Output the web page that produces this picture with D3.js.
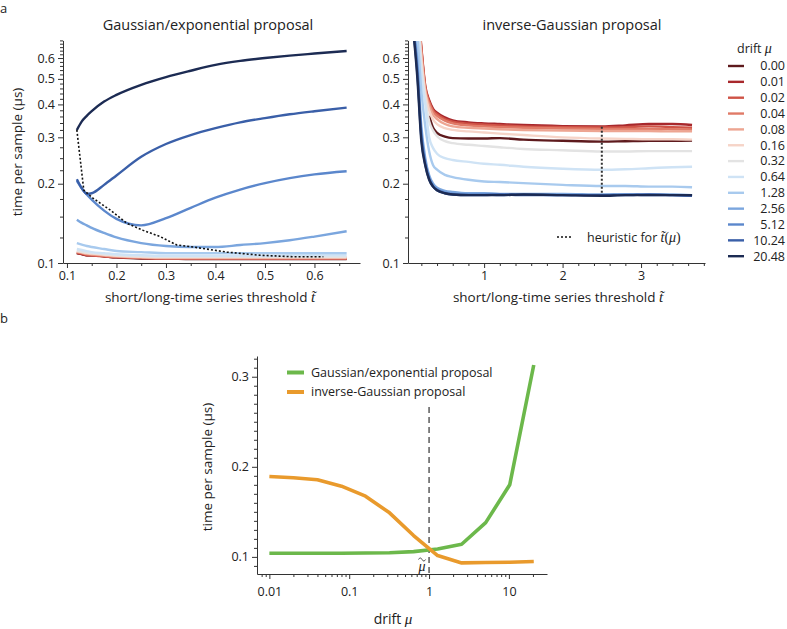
<!DOCTYPE html>
<html><head><meta charset="utf-8">
<script src="https://cdn.jsdelivr.net/npm/d3@7"></script>
<style>
body{margin:0;background:#fff}
text{font-family:'Open Sans',Lato,sans-serif;fill:#222}
.math{font-family:'Liberation Serif','DejaVu Serif',serif;font-style:italic}
</style>
</head><body><svg id="c" width="787" height="629"></svg>
<script>
// ---------------- data ----------------
const driftLabels = ["0.00","0.01","0.02","0.04","0.08","0.16","0.32","0.64","1.28","2.56","5.12","10.24","20.48"];
const driftColors = ["#5e1a1d","#a8282c","#cf5346","#e07a67","#eda592","#f6d4c8","#e3e3e3","#cfe3f5","#a8caee","#7ba6de","#5b87cc","#3a5fa8","#1c2b53"];

// panel a, left: Gaussian/exponential proposal
const leftT = [0.12,0.13,0.14,0.15,0.175,0.2,0.25,0.3,0.35,0.4,0.45,0.5,0.55,0.6,0.665];
const leftValues = [
  [0.109,0.108,0.107,0.107,0.106,0.105,0.104,0.104,0.1035,0.1035,0.1035,0.1035,0.1035,0.1035,0.1035],
  [0.109,0.108,0.107,0.107,0.106,0.105,0.1045,0.104,0.104,0.104,0.104,0.104,0.104,0.104,0.104],
  [0.1095,0.1085,0.1075,0.107,0.106,0.1055,0.1045,0.104,0.104,0.104,0.104,0.104,0.104,0.104,0.104],
  [0.110,0.109,0.108,0.1075,0.1065,0.1055,0.105,0.1045,0.1045,0.1045,0.1045,0.1045,0.1045,0.1045,0.1045],
  [0.1105,0.1095,0.1085,0.108,0.107,0.106,0.105,0.1045,0.1045,0.1045,0.1045,0.1045,0.1045,0.1045,0.1045],
  [0.111,0.110,0.109,0.1085,0.1075,0.1065,0.1055,0.105,0.105,0.105,0.105,0.105,0.105,0.105,0.105],
  [0.1115,0.1105,0.1095,0.109,0.108,0.107,0.106,0.1055,0.1055,0.1055,0.1055,0.1055,0.1055,0.1055,0.1055],
  [0.113,0.112,0.111,0.110,0.109,0.108,0.107,0.1065,0.1065,0.1065,0.1065,0.1065,0.107,0.107,0.107],
  [0.119,0.1175,0.116,0.115,0.113,0.111,0.110,0.109,0.109,0.109,0.109,0.109,0.109,0.109,0.109],
  [0.146,0.142,0.139,0.136,0.130,0.125,0.119,0.116,0.115,0.115,0.117,0.119,0.122,0.126,0.132],
  [0.205,0.192,0.182,0.174,0.158,0.147,0.139,0.148,0.162,0.177,0.190,0.201,0.210,0.217,0.223],
  [0.208,0.192,0.183,0.184,0.198,0.215,0.253,0.283,0.306,0.325,0.342,0.355,0.367,0.377,0.389],
  [0.320,0.345,0.362,0.377,0.410,0.435,0.475,0.508,0.537,0.565,0.585,0.600,0.613,0.624,0.638]
];
const leftHeurT = [0.12,0.134,0.153,0.187,0.221,0.254,0.288,0.322,0.355,0.423,0.49,0.557,0.618];
const leftHeurV = [0.320,0.189,0.176,0.159,0.1415,0.133,0.126,0.117,0.115,0.110,0.107,0.1056,0.1056];

// panel a, right: inverse-Gaussian proposal
const rightT = [0.1,0.15,0.2,0.25,0.3,0.35,0.4,0.5,0.6,0.8,1.0,1.2,1.5,2.0,2.5,2.8,3.1,3.4,3.65];
const rightValues = [
  [null,null,null,null,0.362,0.326,0.312,0.302,0.298,0.297,0.297,0.298,0.294,0.291,0.289,0.290,0.291,0.291,0.2915],
  [1.3,1.0,0.66,0.47,0.415,0.385,0.372,0.357,0.348,0.342,0.339,0.337,0.334,0.331,0.330,0.333,0.337,0.337,0.334],
  [1.3,1.0,0.65,0.465,0.41,0.38,0.367,0.352,0.344,0.338,0.335,0.333,0.330,0.328,0.327,0.328,0.330,0.328,0.326],
  [1.3,0.98,0.64,0.46,0.405,0.375,0.362,0.347,0.339,0.333,0.330,0.328,0.326,0.324,0.323,0.323,0.323,0.322,0.321],
  [1.25,0.96,0.62,0.45,0.395,0.365,0.352,0.337,0.330,0.326,0.324,0.322,0.320,0.318,0.317,0.317,0.317,0.316,0.316],
  [1.2,0.94,0.60,0.44,0.38,0.35,0.337,0.325,0.320,0.316,0.313,0.310,0.306,0.300,0.297,0.296,0.295,0.295,0.294],
  [1.1,0.9,0.56,0.42,0.345,0.318,0.303,0.290,0.285,0.281,0.278,0.275,0.271,0.268,0.265,0.265,0.266,0.266,0.266],
  [1.0,0.85,0.53,0.40,0.30,0.273,0.26,0.250,0.246,0.242,0.238,0.236,0.232,0.228,0.226,0.227,0.229,0.231,0.232],
  [0.9,0.72,0.45,0.33,0.265,0.235,0.226,0.216,0.212,0.207,0.204,0.203,0.201,0.198,0.196,0.196,0.195,0.195,0.194],
  [0.8,0.58,0.33,0.25,0.215,0.200,0.193,0.188,0.186,0.184,0.184,0.183,0.183,0.183,0.182,0.182,0.182,0.182,0.181],
  [0.77,0.54,0.31,0.24,0.21,0.196,0.190,0.185,0.183,0.182,0.182,0.181,0.182,0.181,0.181,0.182,0.181,0.181,0.180],
  [0.76,0.52,0.30,0.236,0.208,0.195,0.189,0.184,0.182,0.181,0.181,0.182,0.181,0.181,0.181,0.181,0.182,0.181,0.180],
  [0.75,0.50,0.29,0.235,0.207,0.195,0.189,0.184,0.182,0.181,0.181,0.181,0.182,0.181,0.180,0.181,0.181,0.181,0.181]
];
const rightHeurT = [2.5,2.5];
const rightHeurV = [0.185,0.330];

// panel b
const muValues = [0.01,0.02,0.04,0.08,0.16,0.32,0.64,1.28,2.56,5.12,10.24,20.48];
const gaussExpTime = [0.1040,0.1040,0.1040,0.1041,0.1043,0.1046,0.1058,0.1088,0.1140,0.1380,0.1800,0.3130];
const invGaussTime = [0.1893,0.1878,0.1856,0.1785,0.1674,0.1489,0.1237,0.1015,0.0933,0.0937,0.0941,0.0948];
const muTilde = 1;

// ticks
const topYMajor = [0.1,0.2,0.3,0.4,0.5,0.6];
const topYMinor = [0.125,0.15,0.175,0.225,0.25,0.275,0.32,0.34,0.36,0.38,0.42,0.44,0.46,0.48,0.52,0.54,0.56,0.58,0.62,0.64,0.66,0.68,0.7];
const leftXMajor = [0.1,0.2,0.3,0.4,0.5,0.6];
const leftXMinor = [0.15,0.25,0.35,0.45,0.55,0.65];
const rightXMajor = [1,2,3];
const rightXMinor = [0.2,0.4,0.6,0.8,1.2,1.4,1.6,1.8,2.2,2.4,2.6,2.8,3.2,3.4,3.6,3.8];
const botXMajor = [0.01,0.1,1,10];
const botXMinor = [0.008,0.009,0.02,0.03,0.04,0.05,0.06,0.07,0.08,0.09,0.2,0.3,0.4,0.5,0.6,0.7,0.8,0.9,2,3,4,5,6,7,8,9,20];
const botYMajor = [0.1,0.2,0.3];
const botYMinor = [0.09,0.11,0.12,0.13,0.14,0.15,0.16,0.17,0.18,0.19,0.21,0.22,0.23,0.24,0.25,0.26,0.27,0.28,0.29,0.31,0.32];

// ---------------- drawing ----------------
const svg = d3.select("#c");
const AX = "#333";
const TICKFONT = "12.5px";

function drawAxis(g, axisMajor, axisMinor){
  const a = g.append("g").call(axisMajor);
  a.select(".domain").attr("stroke", AX);
  a.selectAll(".tick line").attr("stroke", AX);
  a.selectAll(".tick text").attr("fill","#222").style("font-family","'Open Sans',sans-serif").style("font-size",TICKFONT);
  const b = g.append("g").call(axisMinor);
  b.select(".domain").remove();
  b.selectAll(".tick line").attr("stroke", AX);
  return a;
}

const yTop = d3.scaleLog().domain([0.1,0.7]).range([263,40.4]);
const xL = d3.scaleLinear().domain([0.092,0.692]).range([63,360]);
const xR = d3.scaleLinear().domain([0.03,3.815]).range([408,705]);

// panel labels
svg.append("text").attr("x",0).attr("y",13).style("font-size","13px").text("a");
svg.append("text").attr("x",0).attr("y",323).style("font-size","13px").text("b");

// ---- left panel ----
const gL = svg.append("g");
drawAxis(gL.append("g").attr("transform","translate(63,0)"),
  d3.axisLeft(yTop).tickValues(topYMajor).tickFormat(d3.format(".1f")).tickSize(5).tickSizeOuter(0).tickPadding(3),
  d3.axisLeft(yTop).tickValues(topYMinor).tickFormat("").tickSize(3).tickSizeOuter(0));
drawAxis(gL.append("g").attr("transform","translate(0,263)"),
  d3.axisBottom(xL).tickValues(leftXMajor).tickFormat(d3.format(".1f")).tickSize(5).tickSizeOuter(0).tickPadding(3),
  d3.axisBottom(xL).tickValues(leftXMinor).tickFormat("").tickSize(3).tickSizeOuter(0));

const lineL = d3.line().x(d=>xL(d[0])).y(d=>yTop(d[1])).curve(d3.curveMonotoneX);
leftValues.forEach((vals,i)=>{
  gL.append("path").datum(leftT.map((t,j)=>[t,vals[j]]))
    .attr("d",lineL).attr("fill","none").attr("stroke",driftColors[i]).attr("stroke-width",2.4).attr("stroke-linejoin","round");
});
gL.append("path").datum(leftHeurT.map((t,j)=>[t,leftHeurV[j]]))
  .attr("d",d3.line().x(d=>xL(d[0])).y(d=>yTop(d[1])))
  .attr("fill","none").attr("stroke","#111").attr("stroke-width",1.6).attr("stroke-dasharray","2,2");

svg.append("text").attr("x",208).attr("y",30).attr("text-anchor","middle").style("font-size","14.5px").text("Gaussian/exponential proposal");
svg.append("text").attr("x",17).attr("y",152).attr("text-anchor","middle").attr("transform","rotate(-90,17,152)")
  .attr("dy","0.35em").style("font-size","13.5px").text("time per sample (μs)");

function tildeLabel(cx, y, txt){
  const t = svg.append("text").attr("x",cx).attr("y",y).attr("text-anchor","middle").style("font-size","13.5px");
  t.append("tspan").text(txt+"  ");
  t.append("tspan").attr("class","math").style("font-size","15px").text("t\u0303");
}
tildeLabel(210, 302, "short/long-time series threshold");

// ---- right panel ----
const gR = svg.append("g");
drawAxis(gR.append("g").attr("transform","translate(408,0)"),
  d3.axisLeft(yTop).tickValues(topYMajor).tickFormat(d3.format(".1f")).tickSize(5).tickSizeOuter(0).tickPadding(3),
  d3.axisLeft(yTop).tickValues(topYMinor).tickFormat("").tickSize(3).tickSizeOuter(0));
drawAxis(gR.append("g").attr("transform","translate(0,263)"),
  d3.axisBottom(xR).tickValues(rightXMajor).tickFormat(d3.format("d")).tickSize(5).tickSizeOuter(0).tickPadding(3),
  d3.axisBottom(xR).tickValues(rightXMinor).tickFormat("").tickSize(3).tickSizeOuter(0));

svg.append("defs").append("clipPath").attr("id","clipR").append("rect").attr("x",408).attr("y",41).attr("width",300).attr("height",222);
const lineR = d3.line().defined(d=>d[1]!=null).x(d=>xR(d[0])).y(d=>yTop(d[1])).curve(d3.curveMonotoneX);
const gRL = gR.append("g").attr("clip-path","url(#clipR)");
rightValues.forEach((vals,i)=>{
  gRL.append("path").datum(rightT.map((t,j)=>[t,vals[j]]))
    .attr("d",lineR).attr("fill","none").attr("stroke",driftColors[i]).attr("stroke-width",2.4).attr("stroke-linejoin","round");
});
gR.append("path").datum(rightHeurT.map((t,j)=>[t,rightHeurV[j]]))
  .attr("d",d3.line().x(d=>xR(d[0])).y(d=>yTop(d[1])))
  .attr("fill","none").attr("stroke","#333").attr("stroke-width",2).attr("stroke-dasharray","2,2");

svg.append("text").attr("x",572).attr("y",30).attr("text-anchor","middle").style("font-size","14.5px").text("inverse-Gaussian proposal");
tildeLabel(558, 302, "short/long-time series threshold");

// heuristic legend
svg.append("line").attr("x1",557).attr("x2",572).attr("y1",237).attr("y2",237)
  .attr("stroke","#111").attr("stroke-width",1.6).attr("stroke-dasharray","2,2");
const ht = svg.append("text").attr("x",587).attr("y",241.5).style("font-size","12.5px");
ht.append("tspan").text("heuristic for ");
ht.append("tspan").attr("class","math").style("font-size","14px").text("t\u0303");
ht.append("tspan").style("font-family","'Liberation Serif',serif").style("font-size","14px").text("(");
ht.append("tspan").attr("class","math").style("font-size","14px").text("μ");
ht.append("tspan").style("font-family","'Liberation Serif',serif").style("font-size","14px").text(")");

// drift legend
const dl = svg.append("text").attr("x",737).attr("y",53).style("font-size","12.5px");
dl.append("tspan").text("drift ");
dl.append("tspan").attr("class","math").style("font-size","14px").text("μ");
driftLabels.forEach((lab,i)=>{
  const y = 66 + i*15.85;
  svg.append("line").attr("x1",728).attr("x2",744).attr("y1",y).attr("y2",y).attr("stroke",driftColors[i]).attr("stroke-width",2.4);
  svg.append("text").attr("x",785).attr("y",y).attr("dy","0.35em").attr("text-anchor","end").style("font-size","12.5px").text(lab);
});

// ---- panel b ----
const xB = d3.scaleLog().domain([0.007,30]).range([257,547]);
const yB = d3.scaleLinear().domain([0.081,0.323]).range([574,356]);
const gB = svg.append("g");
drawAxis(gB.append("g").attr("transform","translate(257,0)"),
  d3.axisLeft(yB).tickValues(botYMajor).tickFormat(d3.format(".1f")).tickSize(5).tickSizeOuter(0).tickPadding(3),
  d3.axisLeft(yB).tickValues(botYMinor).tickFormat("").tickSize(3).tickSizeOuter(0));
drawAxis(gB.append("g").attr("transform","translate(0,574)"),
  d3.axisBottom(xB).tickValues(botXMajor).tickFormat(d=>String(d)).tickSize(5).tickSizeOuter(0).tickPadding(8),
  d3.axisBottom(xB).tickValues(botXMinor).tickFormat("").tickSize(3).tickSizeOuter(0));

// dashed mu tilde line
const xm = xB(muTilde);
gB.append("line").attr("x1",xm).attr("x2",xm).attr("y1",407).attr("y2",574)
  .attr("stroke","#333").attr("stroke-width",1.2).attr("stroke-dasharray","6,4");
svg.append("text").attr("class","math").attr("x",xm-7).attr("y",571).attr("text-anchor","middle").style("font-size","14px").text("μ");
svg.append("path").attr("d",`M${xm-10.5},${559.5} c1,-2 2.5,-2 3.5,0 s2.5,2 3.5,0`)
  .attr("fill","none").attr("stroke","#222").attr("stroke-width",0.8);

const lineB = d3.line().x(d=>xB(d[0])).y(d=>yB(d[1]));
gB.append("path").datum(muValues.map((m,j)=>[m,gaussExpTime[j]])).attr("d",lineB)
  .attr("fill","none").attr("stroke","#6cb84b").attr("stroke-width",3.6).attr("stroke-linejoin","round");
gB.append("path").datum(muValues.map((m,j)=>[m,invGaussTime[j]])).attr("d",lineB)
  .attr("fill","none").attr("stroke","#e99a2c").attr("stroke-width",3.6).attr("stroke-linejoin","round");

// legend b
[["Gaussian/exponential proposal","#6cb84b",372.5],["inverse-Gaussian proposal","#e99a2c",392]].forEach(([lab,col,y])=>{
  svg.append("line").attr("x1",287).attr("x2",304).attr("y1",y).attr("y2",y).attr("stroke",col).attr("stroke-width",4);
  svg.append("text").attr("x",311).attr("y",y).attr("dy","0.35em").style("font-size","12.5px").text(lab);
});

svg.append("text").attr("x",207).attr("y",467).attr("text-anchor","middle").attr("transform","rotate(-90,207,467)")
  .attr("dy","0.35em").style("font-size","13.5px").text("time per sample (μs)");
const dx = svg.append("text").attr("x",393).attr("y",624).attr("text-anchor","middle").style("font-size","14px");
dx.append("tspan").text("drift ");
dx.append("tspan").attr("class","math").style("font-size","15px").text("μ");
</script>
</body></html>
